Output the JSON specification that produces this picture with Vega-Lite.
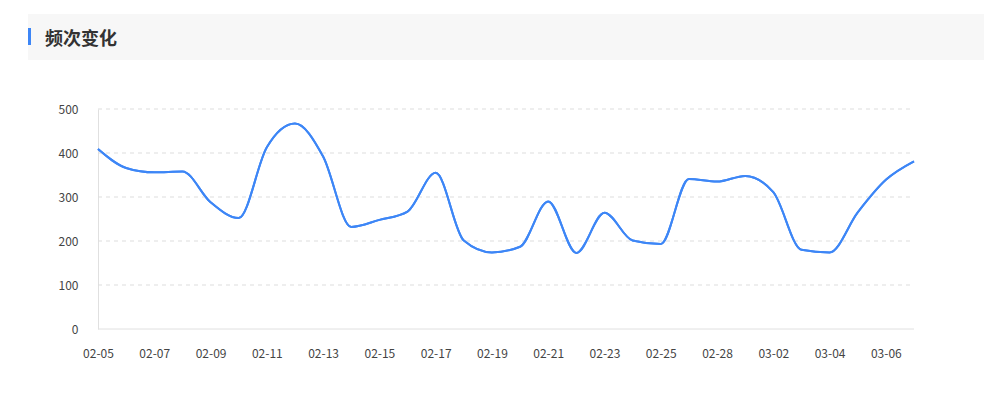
{
  "$schema": "https://vega.github.io/schema/vega-lite/v6.json",
  "background": "white",
  "padding": {"left": 28, "top": 14, "right": 0, "bottom": 0},
  "config": {
    "view": {"stroke": null},
    "concat": {"spacing": 43},
    "font": "Noto Sans CJK SC"
  },
  "datasets": {
    "grid": [{"v": 100}, {"v": 200}, {"v": 300}, {"v": 400}, {"v": 500}],
    "base": [{"v": 0}],
    "freq": [
      {"date": "02-05", "count": 409},
      {"date": "02-06", "count": 366},
      {"date": "02-07", "count": 356},
      {"date": "02-08", "count": 358},
      {"date": "02-09", "count": 288},
      {"date": "02-10", "count": 252},
      {"date": "02-11", "count": 413},
      {"date": "02-12", "count": 467},
      {"date": "02-13", "count": 392},
      {"date": "02-14", "count": 232},
      {"date": "02-15", "count": 248},
      {"date": "02-16", "count": 267},
      {"date": "02-17", "count": 355},
      {"date": "02-18", "count": 201},
      {"date": "02-19", "count": 174},
      {"date": "02-20", "count": 187},
      {"date": "02-21", "count": 290},
      {"date": "02-22", "count": 173},
      {"date": "02-23", "count": 264},
      {"date": "02-24", "count": 201},
      {"date": "02-25", "count": 193},
      {"date": "02-27", "count": 341},
      {"date": "02-28", "count": 335},
      {"date": "03-01", "count": 348},
      {"date": "03-02", "count": 311},
      {"date": "03-03", "count": 180},
      {"date": "03-04", "count": 174},
      {"date": "03-05", "count": 265},
      {"date": "03-06", "count": 339},
      {"date": "03-07", "count": 381}
    ]
  },
  "vconcat": [
    {
      "width": 956,
      "height": 46,
      "view": {"fill": "#f7f7f7", "stroke": null},
      "title": {
        "text": "频次变化",
        "anchor": "start",
        "frame": "group",
        "orient": "top",
        "offset": -44,
        "baseline": "middle",
        "dx": 17,
        "fontSize": 18,
        "fontWeight": "bold",
        "color": "#333333",
        "font": "Noto Sans CJK SC"
      },
      "data": {"values": [{"k": "accent"}]},
      "mark": {"type": "rect", "color": "#3d86f6"},
      "encoding": {
        "x": {"value": 0},
        "x2": {"value": 3},
        "y": {"value": 14},
        "y2": {"value": 31}
      }
    },
    {
      "width": 886,
      "height": 220,
      "layer": [
        {
          "data": {"name": "freq"},
          "mark": {"type": "line", "interpolate": "monotone", "color": "#3d86f6", "strokeWidth": 2},
          "encoding": {
            "x": {
              "field": "date",
              "type": "ordinal",
              "sort": "ascending",
              "scale": {"type": "point", "range": [70, 886], "padding": 0},
              "axis": {
                "title": null,
                "values": ["02-05", "02-07", "02-09", "02-11", "02-13", "02-15", "02-17", "02-19", "02-21", "02-23", "02-25", "02-28", "03-02", "03-04", "03-06"],
                "labelAngle": 0,
                "ticks": false,
                "tickSize": 0,
                "labelPadding": 19,
                "labelFontSize": 12,
                "labelColor": "#444444",
                "labelFont": "Noto Sans CJK SC",
                "domain": false,
                "grid": false
              }
            },
            "y": {
              "field": "count",
              "type": "quantitative",
              "scale": {"domain": [0, 500], "nice": false},
              "axis": {
                "title": null,
                "values": [0, 100, 200, 300, 400, 500],
                "offset": -70,
                "ticks": false,
                "tickSize": 0,
                "labelPadding": 20,
                "labelFontSize": 12,
                "labelColor": "#444444",
                "labelFont": "Noto Sans CJK SC",
                "domain": true,
                "domainColor": "#e0e0e0",
                "grid": false
              }
            }
          }
        },
        {
          "data": {"name": "grid"},
          "mark": {"type": "rule", "color": "#dddddd", "strokeDash": [4, 4], "strokeWidth": 1},
          "encoding": {
            "y": {"field": "v", "type": "quantitative"},
            "x": {"datum": "02-05", "type": "ordinal", "sort": "ascending", "scale": {"type": "point", "range": [70, 886], "padding": 0}},
            "x2": {"datum": "03-07"}
          }
        },
        {
          "data": {"name": "base"},
          "mark": {"type": "rule", "color": "#e0e0e0", "strokeWidth": 1},
          "encoding": {
            "y": {"field": "v", "type": "quantitative"},
            "x": {"datum": "02-05", "type": "ordinal", "sort": "ascending", "scale": {"type": "point", "range": [70, 886], "padding": 0}},
            "x2": {"datum": "03-07"}
          }
        },
        {
          "data": {"name": "freq"},
          "mark": {"type": "line", "interpolate": "monotone", "color": "#3d86f6", "strokeWidth": 2},
          "encoding": {
            "x": {"field": "date", "type": "ordinal", "sort": "ascending"},
            "y": {"field": "count", "type": "quantitative"}
          }
        }
      ]
    }
  ]
}
